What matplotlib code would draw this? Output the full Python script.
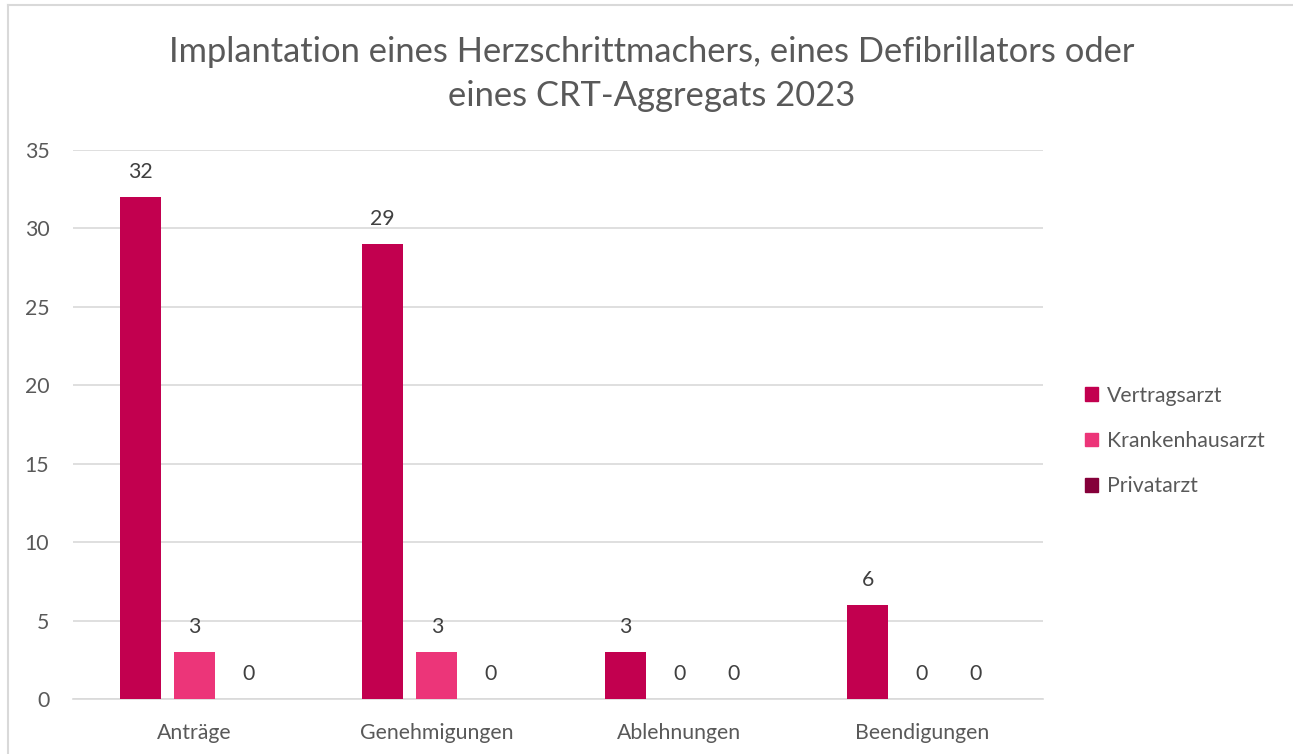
import numpy as np
import matplotlib.pyplot as plt
from matplotlib.lines import Line2D

plt.rcParams['font.family'] = ['Lato', 'DejaVu Sans']

categories = ["Anträge", "Genehmigungen", "Ablehnungen", "Beendigungen"]
series_names = ["Vertragsarzt", "Krankenhausarzt", "Privatarzt"]
vertragsarzt = [32, 29, 3, 6]
krankenhausarzt = [3, 3, 0, 0]
privatarzt = [0, 0, 0, 0]
colors = ["#C2004F", "#EC3579", "#85003A"]

title = "Implantation eines Herzschrittmachers, eines Defibrillators oder\neines CRT-Aggregats 2023"
text_color = "#595959"
grid_color = "#D9D9D9"
fs = 15.3

fig = plt.figure(figsize=(12.93, 7.54), dpi=100)
ax = fig.add_axes([73 / 1293, 1 - 699 / 754, 970 / 1293, 549 / 754])

x = np.arange(len(categories))
width = 0.17
offset = 0.223

for i, (vals, name) in enumerate(zip([vertragsarzt, krankenhausarzt, privatarzt], series_names)):
    pos = x + (i - 1) * offset
    bars = ax.bar(pos, vals, width, color=colors[i], label=name, zorder=3)
    for b, v in zip(bars, vals):
        ax.annotate(str(v), (b.get_x() + b.get_width() / 2, v),
                    xytext=(0, 18), textcoords="offset points",
                    ha="center", va="center", fontsize=fs, color="#404040")

ax.set_xlim(-0.5, len(categories) - 0.5)
ax.set_ylim(0, 35)
ax.set_yticks(range(0, 36, 5))
ax.yaxis.grid(True, color=grid_color, linewidth=1.2, zorder=0)
ax.set_xticks(x)
ax.set_xticklabels(categories)
ax.tick_params(axis="both", length=0, labelsize=fs, labelcolor=text_color)
ax.tick_params(axis="x", pad=17)
ax.tick_params(axis="y", pad=17)
for s in ["top", "right", "left"]:
    ax.spines[s].set_visible(False)
ax.spines["bottom"].set_color(grid_color)
ax.spines["bottom"].set_linewidth(1.2)

fig.text(652 / 1293, 1 - 74 / 754, title, ha="center", va="center",
         fontsize=24.8, color=text_color, linespacing=1.45)

handles = [plt.Rectangle((0, 0), 1, 1, color=c) for c in colors]
fig.legend(handles, series_names, loc="center left",
           bbox_to_anchor=(1066 / 1293, 1 - 441 / 754), frameon=False,
           fontsize=fs, labelcolor=text_color, handlelength=0.62,
           handleheight=0.62, handletextpad=0.4, labelspacing=1.2)

# outer chart border (top and left edges visible)
fig.add_artist(Line2D([8 / 1293, 1], [1 - 5 / 754, 1 - 5 / 754],
                      transform=fig.transFigure, color=grid_color, linewidth=1.5))
fig.add_artist(Line2D([8 / 1293, 8 / 1293], [0, 1 - 5 / 754],
                      transform=fig.transFigure, color=grid_color, linewidth=1.5))

fig.savefig("out.png", dpi=100)
